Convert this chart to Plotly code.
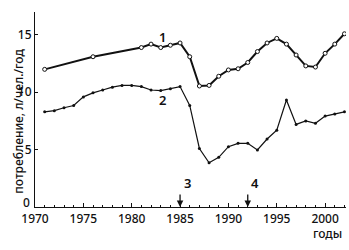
import plotly.graph_objects as go

years1 = [1971, 1976, 1981, 1982, 1983, 1984, 1985, 1986, 1987, 1988, 1989, 1990,
          1991, 1992, 1993, 1994, 1995, 1996, 1997, 1998, 1999, 2000, 2001, 2002]
series1 = [12.0, 13.1, 13.9, 14.2, 13.9, 14.1, 14.3, 13.1, 10.55, 10.6, 11.4, 11.95,
           12.05, 12.6, 13.55, 14.3, 14.7, 14.2, 13.25, 12.3, 12.2, 13.4, 14.2, 15.1]

years2 = list(range(1971, 2003))
series2 = [8.3, 8.4, 8.65, 8.85, 9.6, 9.95, 10.2, 10.45, 10.6, 10.6, 10.5, 10.2,
           10.15, 10.3, 10.5, 8.85, 5.1, 3.86, 4.33, 5.26, 5.55, 5.55, 4.97, 5.93,
           6.7, 9.33, 7.2, 7.5, 7.3, 7.93, 8.1, 8.3]

event_years = [1985, 1992]
event_labels = ["3", "4"]
series_labels = ["1", "2"]
x_ticks = [1970, 1975, 1980, 1985, 1990, 1995, 2000]
y_ticks = [0, 5, 10, 15]
y_labeled = [5, 10, 15]

FONT = "Noto Sans"

fig = go.Figure()
fig.add_trace(go.Scatter(
    x=years1, y=series1, mode="lines+markers",
    line=dict(color="#111", width=2),
    marker=dict(symbol="circle", size=4, color="white",
                line=dict(color="#111", width=1)),
    showlegend=False))
fig.add_trace(go.Scatter(
    x=years2, y=series2, mode="lines+markers",
    line=dict(color="#111", width=1.2),
    marker=dict(symbol="circle", size=3, color="#111"),
    showlegend=False))

anns = []
anns.append(dict(x=1983.2, y=14.8, text=series_labels[0], showarrow=False,
                 font=dict(size=13, family=FONT, color="#111", weight=600)))
anns.append(dict(x=1983.2, y=9.3, text=series_labels[1], showarrow=False,
                 font=dict(size=13, family=FONT, color="#111", weight=600)))
for yr, lab in zip(event_years, event_labels):
    anns.append(dict(x=yr, y=0, ax=0, ay=-14, text="", showarrow=True,
                     arrowhead=2, arrowsize=1, arrowwidth=1.3, arrowcolor="#111",
                     standoff=0))
    anns.append(dict(x=yr + 0.8, y=2.1, text=lab, showarrow=False,
                     font=dict(size=13, family=FONT, color="#111", weight=600)))
anns.append(dict(x=2000.2, xref="x", yref="paper", y=-0.138, yanchor="middle",
                 text="годы", showarrow=False,
                 font=dict(size=12, family=FONT, color="#111", weight=500)))
anns.append(dict(xref="paper", yref="paper", x=-0.087, y=0.44,
                 text="потребление, л/чел./год", textangle=-90, showarrow=False,
                 font=dict(size=12, family=FONT, color="#111", weight=500)))
anns.append(dict(xref="paper", x=0, xanchor="right", xshift=-3, y=y_ticks[0],
                 yshift=5, text=str(y_ticks[0]), showarrow=False,
                 font=dict(size=12, family=FONT, color="#111", weight=500)))

fig.update_layout(
    width=349, height=250,
    margin=dict(l=35, r=3, t=12, b=43),
    paper_bgcolor="white", plot_bgcolor="white",
    font=dict(family=FONT, size=12, color="#111"),
    annotations=anns,
    xaxis=dict(range=[1970, 2002.16], tickvals=x_ticks, ticks="inside", ticklen=4,
               tickwidth=1, tickcolor="#111", showline=True, linecolor="#111",
               linewidth=1.2, showgrid=False, zeroline=False,
               tickfont=dict(size=12, family=FONT, color="#111", weight=500),
               minor=dict(dtick=1, ticks="inside", ticklen=2, tickcolor="#111",
                          showgrid=False)),
    yaxis=dict(range=[0, 17], tickvals=y_labeled, ticks="inside", ticklen=3,
               tickcolor="#111", showline=True, linecolor="#111", linewidth=1.2,
               showgrid=False, zeroline=False,
               tickfont=dict(size=12, family=FONT, color="#111", weight=500)),
)

fig.write_html("out.html")
